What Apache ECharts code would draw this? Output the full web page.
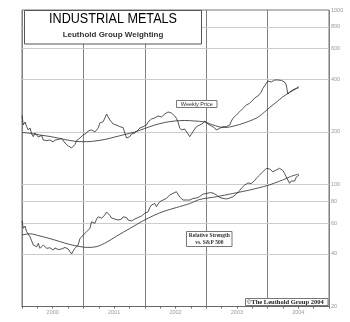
<!DOCTYPE html>
<html><head><meta charset="utf-8">
<script src="https://cdn.jsdelivr.net/npm/echarts@6/dist/echarts.min.js"></script>
<style>html,body{margin:0;padding:0;background:#fff}#c{width:350px;height:322px}</style>
</head><body><div id="c"></div>
<script>
// Weekly observation dates (decimal years)
const weekDates = [
2000.000,2000.021,2000.049,2000.076,2000.102,2000.130,2000.158,2000.184,2000.211,2000.239,2000.265,2000.293,2000.320,2000.346,2000.374,2000.402,2000.428,2000.455,2000.483,2000.509,2000.537,2000.564,2000.590,2000.618,2000.646,2000.672,2000.699,2000.727,2000.753,2000.780,2000.808,2000.834,2000.862,2000.889,2000.915,2000.943,2000.971,2000.997,
2001.024,2001.052,2001.078,2001.106,2001.133,2001.159,2001.187,2001.215,2001.241,2001.268,2001.296,2001.322,2001.350,2001.377,2001.403,2001.431,2001.459,2001.485,2001.512,2001.540,2001.566,2001.593,2001.621,2001.647,2001.675,2001.702,2001.728,2001.756,2001.784,2001.810,2001.837,2001.865,2001.891,2001.919,2001.946,2001.972,
2002.000,2002.028,2002.054,2002.081,2002.109,2002.135,2002.163,2002.190,2002.216,2002.244,2002.272,2002.298,2002.325,2002.353,2002.379,2002.407,2002.434,2002.460,2002.488,2002.515,2002.541,2002.569,2002.597,2002.623,2002.650,2002.678,2002.704,2002.732,2002.759,2002.785,2002.813,2002.841,2002.867,2002.894,2002.922,2002.948,2002.976,
2003.003,2003.029,2003.057,2003.085,2003.111,2003.138,2003.166,2003.192,2003.220,2003.247,2003.273,2003.301,2003.328,2003.354,2003.382,2003.410,2003.436,2003.463,2003.491,2003.517,2003.545,2003.572,2003.598,2003.626,2003.654,2003.680,2003.707,2003.735,2003.761,2003.789,2003.816,2003.842,2003.870,2003.898,2003.924,2003.951,2003.979,
2004.005,2004.033,2004.060,2004.086,2004.114,2004.141,2004.167,2004.195,2004.223,2004.249,2004.276,2004.304,2004.330,2004.358,2004.385,2004.411,2004.439,2004.467,2004.493,2004.512
];
// Weekly price (log scale)
const priceValues = [
248.5,219.3,228.2,214.5,205.3,210.8,194.8,188,197.4,196,187.2,184.8,191,180,184.8,178.3,182.3,180,177.6,175.3,180,178.3,181,178,183.5,180,173,174,166.3,164.8,162,166.3,169.5,178.3,180,184.8,187.2,192.2,
194.8,197.4,202.7,201,205.3,206.6,200,197.4,210.8,225.2,222.2,229,240.5,253.6,243.7,234.3,228.2,222.2,218,219.3,213.6,214.5,210.8,212,210.8,184.8,187.2,188,194.8,192.2,197.4,201,205.3,210.8,209.4,214.5,
216.5,219.3,228.2,234.3,237.4,241.5,240.5,244.7,247,250.3,243.7,247,253.6,256,260.4,261.4,256.9,250.3,247,239.6,228.2,210.8,205.3,200.8,208,205.3,194.8,188,184.8,200.8,208,214.5,216.5,219.3,222.2,224.3,231.2,
227.3,222.2,219.3,216.5,214.5,210.8,205.3,208,210,213.6,214.5,213.6,214.5,216.5,219.3,231.2,239.6,243.7,250.3,256.9,261.4,267.3,273,278.1,285.5,289.3,292,297.1,305,313.2,318.6,321.5,325.8,339,355.9,366.9,380.2,
391.9,397.1,386.8,380.2,397.1,406,397.1,388.3,394.5,397.1,386.8,371.8,330.1,339,334.5,348,352.6,355.9,362.1,364.5
];
// Price moving average
const priceMaDates = [2000.000,2000.130,2000.293,2000.455,2000.618,2000.780,2000.943,2001.073,2001.187,2001.350,2001.512,2001.675,2001.837,2002.000,2002.163,2002.325,2002.488,2002.650,2002.813,2002.976,2003.089,2003.220,2003.301,2003.382,2003.545,2003.707,2003.837,2003.951,2004.033,2004.146,2004.244,2004.358,2004.455,2004.504];
const priceMaValues = [198.7,196.6,192.2,188.5,183.6,178.8,176,176,177.6,181.2,187.2,193.5,200,209.5,219.3,226.7,231.2,232.8,231.2,228.2,220.8,213.6,212.2,213.6,220.8,231.2,242.2,260.4,276.3,297.1,317.3,336.8,352.6,357.3];
// Relative strength vs. S&P 500
const rsValues = [
61.8,56.1,57.8,53.6,54.9,50.2,47.5,45.0,44.4,44.0,46.0,43.1,43.8,45.0,46.0,43.1,43.8,43.4,42.7,42.1,43.3,43.1,42.4,42.1,42.7,43.1,43.6,44.0,42.7,41.6,40.0,41.6,43.1,43.8,45.0,48.9,50.0,51.4,
52.4,53.6,54.9,56.1,61.2,61.0,59.9,63.4,65.3,65.1,64.1,65.6,66.9,69.6,68.7,66.5,64.3,63.0,63.4,64.1,62.6,61.2,63.4,65.3,66.9,64.7,62.6,61.2,61.8,62.6,63.4,64.1,64.7,65.3,66.0,66.9,
68.4,69.1,69.8,73.8,76.3,77.3,77.9,74.6,77.3,79.7,80.4,81.5,82.6,83.3,85.4,87.1,88.2,89.0,90.6,90.9,93.0,84.8,82.6,81.5,82.1,81.5,82.6,81.5,82.6,83.2,82.6,83.7,84.2,85.3,87.1,88.2,87.6,
88.8,89.4,89.8,88.8,89.4,89.0,87.1,85.1,84.2,84.8,83.3,83.1,82.6,82.3,83.7,84.2,85.1,87.1,88.2,89.0,92.4,95.1,97.4,99.3,100.7,102.0,102.4,101.3,101.6,105.4,108.5,111.1,113.3,115.9,118.4,121.1,123.8,
126.5,122.7,120.3,118.4,119.5,121.1,122.7,123.8,121.9,120.3,115.9,110.4,106.1,101.6,104.7,105.4,104.7,110.2,111.9,113.3
];
const rsMaDates = [2000.000,2000.130,2000.293,2000.455,2000.618,2000.780,2000.943,2001.073,2001.220,2001.382,2001.545,2001.756,2001.967,2002.163,2002.325,2002.515,2002.732,2002.894,2003.166,2003.431,2003.707,2004.000,2004.114,2004.244,2004.374,2004.504];
const rsMaValues = [51.4,52.2,50.7,49.0,47.1,45.3,44.1,43.6,44.1,46.8,50.7,56.0,61.8,66.9,70.5,73.8,77.8,82.1,85.1,88.8,93.0,98.7,102.0,106.1,111.1,114.9];

const yTickValues = [1000,800,600,400,200,100,80,60,40,20];
const yearLabels = ['2000','2001','2002','2003','2004'];

const zip = (xs, ys) => xs.map((x, i) => [x, ys[i]]);
const chart = echarts.init(document.getElementById('c'), null, {renderer: 'canvas'});

const gridMarks = yTickValues.map(v => ({
  yAxis: v,
  lineStyle: {color: (v === 1000 || v === 20) ? 'rgba(0,0,0,0)' : '#cccccc', width: 1, type: 'solid'},
  label: {show: true, position: 'end', formatter: String(v), color: '#999', fontSize: 5.5, distance: 2, fontFamily: 'Liberation Sans'}
}));

const lineBase = {type: 'line', showSymbol: false, symbol: 'none', animation: false, silent: true,
  lineStyle: {color: '#2a2a2a', width: 0.8}, z: 3};

chart.setOption({
  animation: false,
  grid: {left: 22, right: 21, top: 10, bottom: 15.5, show: true, borderColor: '#777', borderWidth: 1},
  xAxis: [
    {type: 'value', min: 2000, max: 2005, interval: 0.25,
     axisLine: {show: true, lineStyle: {color: '#666', width: 1}},
     axisTick: {show: true, length: 2, lineStyle: {color: '#666'}},
     axisLabel: {fontSize: 5.5, color: '#999', margin: 3, fontFamily: 'Liberation Sans',
       formatter: v => (Math.abs(v - Math.floor(v) - 0.5) < 1e-6) ? yearLabels[Math.floor(v) - 2000] : ''},
     splitLine: {show: false}},
    {type: 'value', min: 2000, max: 2005, interval: 1, position: 'bottom',
     axisLine: {show: false}, axisTick: {show: false}, axisLabel: {show: false},
     splitLine: {show: true, lineStyle: {color: '#808080', width: 1}}}
  ],
  yAxis: {type: 'log', logBase: 10, min: 20, max: 1000, position: 'right',
    axisLine: {show: false}, axisTick: {show: false}, axisLabel: {show: false}, splitLine: {show: false}},
  series: [
    Object.assign({}, lineBase, {name: 'Weekly Price', data: zip(weekDates, priceValues),
      markLine: {silent: true, symbol: ['none', 'none'], animation: false, z: 1, data: gridMarks}}),
    Object.assign({}, lineBase, {name: 'Price MA', data: zip(priceMaDates, priceMaValues), smooth: 0.3}),
    Object.assign({}, lineBase, {name: 'Relative Strength', data: zip(weekDates, rsValues)}),
    Object.assign({}, lineBase, {name: 'RS MA', data: zip(rsMaDates, rsMaValues), smooth: 0.3})
  ],
  graphic: [
    {type: 'rect', z: 100, shape: {x: 24.5, y: 10.5, width: 177, height: 33.5}, style: {fill: '#fff', stroke: '#555', lineWidth: 1}},
    {type: 'text', z: 101, x: 113, y: 19.5, scaleX: 0.9, style: {text: 'INDUSTRIAL METALS', font: '14px "Liberation Sans"', fill: '#000', align: 'center', verticalAlign: 'middle'}},
    {type: 'text', z: 101, x: 113, y: 34.5, style: {text: 'Leuthold Group Weighting', font: 'bold 8px "Liberation Sans"', fill: '#333', align: 'center', verticalAlign: 'middle'}},
    {type: 'rect', z: 100, shape: {x: 176.5, y: 100.5, width: 40.5, height: 7}, style: {fill: '#fff', stroke: '#777', lineWidth: 1}},
    {type: 'text', z: 101, x: 196.8, y: 104.2, style: {text: 'Weekly Price', font: '5.5px "Liberation Sans"', fill: '#333', align: 'center', verticalAlign: 'middle'}},
    {type: 'rect', z: 100, shape: {x: 186.5, y: 231.5, width: 45.5, height: 15}, style: {fill: '#fff', stroke: '#777', lineWidth: 1}},
    {type: 'text', z: 101, x: 209.3, y: 235.7, style: {text: 'Relative Strength', font: 'bold 5.5px "Liberation Serif"', fill: '#333', align: 'center', verticalAlign: 'middle'}},
    {type: 'text', z: 101, x: 209.3, y: 242.2, style: {text: 'vs. S&P 500', font: 'bold 5.5px "Liberation Serif"', fill: '#333', align: 'center', verticalAlign: 'middle'}},
    {type: 'rect', z: 100, shape: {x: 245.5, y: 298.5, width: 82.5, height: 7}, style: {fill: '#fff', stroke: '#777', lineWidth: 1}},
    {type: 'text', z: 101, x: 246.5, y: 302.2, style: {text: '\u00A9The Leuthold Group 2004', font: 'bold 6.5px "Liberation Serif"', fill: '#222', align: 'left', verticalAlign: 'middle'}}
  ]
});
</script>
</body></html>
